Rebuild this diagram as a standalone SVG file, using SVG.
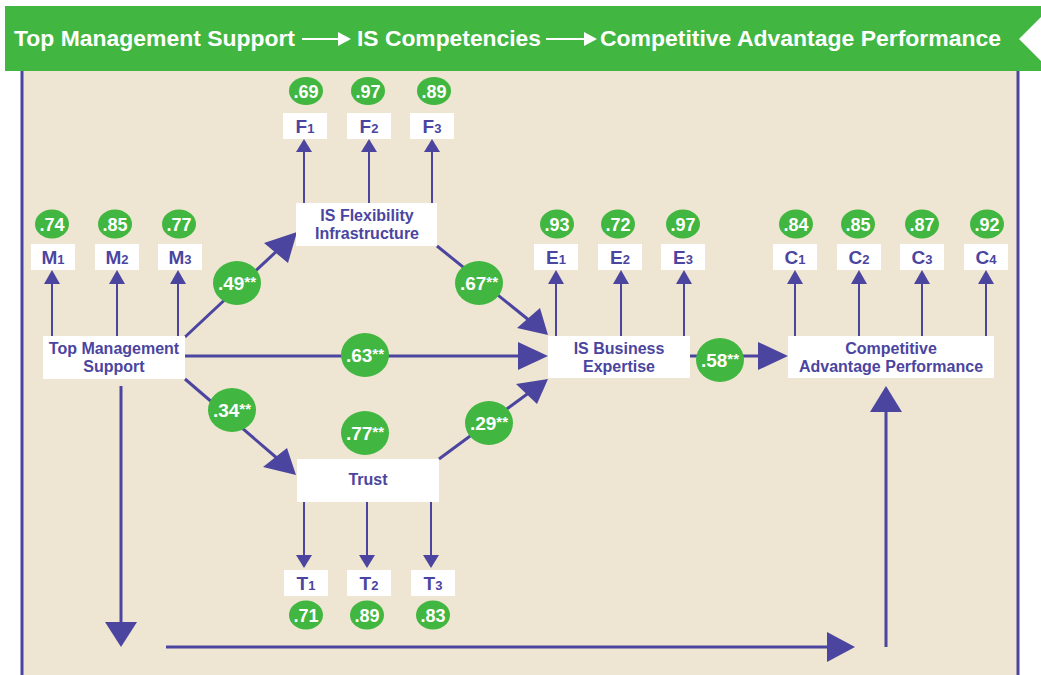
<svg xmlns="http://www.w3.org/2000/svg" width="1041" height="675" viewBox="0 0 1041 675">
<style>
.hdr{font-family:"Liberation Sans",Arial,sans-serif;font-weight:bold;font-size:22px;fill:#ffffff}
.box{fill:#ffffff}
.lbl{font-family:"Liberation Sans",Arial,sans-serif;font-weight:bold;font-size:16px;fill:#4B45A0;text-anchor:middle}
.ind{font-family:"Liberation Sans",Arial,sans-serif;font-weight:bold;font-size:19px;fill:#4B45A0;text-anchor:middle}
.sub{font-size:13px}
.dot{fill:#41B640}
.num{font-family:"Liberation Sans",Arial,sans-serif;font-weight:bold;font-size:18px;fill:#ffffff;text-anchor:middle}
.coef{font-family:"Liberation Sans",Arial,sans-serif;font-weight:bold;font-size:19px;fill:#ffffff;text-anchor:middle}
.ast{font-size:15px}
.thin{stroke:#4B45A0;stroke-width:2;fill:none}
.thick{stroke:#4B45A0;stroke-width:3;fill:none}
.head{fill:#4B45A0}
</style>

<!-- header -->
<g id="header">
<polygon points="5,6 1041,6 1041,17 1019,39 1041,61 1041,71 5,71" fill="#41B640"/>
<text class="hdr" x="14" y="46" textLength="281" lengthAdjust="spacingAndGlyphs">Top Management Support</text>
<line x1="302" y1="39" x2="340" y2="39" stroke="#ffffff" stroke-width="2"/>
<polygon points="338,32 351,39 338,46" fill="#ffffff"/>
<text class="hdr" x="357" y="46" textLength="184" lengthAdjust="spacingAndGlyphs">IS Competencies</text>
<line x1="546" y1="39" x2="586" y2="39" stroke="#ffffff" stroke-width="2"/>
<polygon points="584,32 597,39 584,46" fill="#ffffff"/>
<text class="hdr" x="600" y="46" textLength="401" lengthAdjust="spacingAndGlyphs">Competitive Advantage Performance</text>
</g>

<!-- background panel -->
<rect x="22" y="71" width="996" height="604" fill="#EEE6D2"/>
<line x1="22" y1="71" x2="22" y2="675" stroke="#4B45A0" stroke-width="3"/>
<line x1="1018" y1="71" x2="1018" y2="675" stroke="#4B45A0" stroke-width="3"/>

<!-- connectors -->
<g id="connectors">
<line class="thin" x1="52" y1="336" x2="52" y2="282"/><polygon class="head" points="52,270 44,284 60,284"/>
<line class="thin" x1="117" y1="336" x2="117" y2="282"/><polygon class="head" points="117,270 109,284 125,284"/>
<line class="thin" x1="178" y1="336" x2="178" y2="282"/><polygon class="head" points="178,270 170,284 186,284"/>
<line class="thin" x1="304" y1="203" x2="304" y2="150"/><polygon class="head" points="304,139 296,152 312,152"/>
<line class="thin" x1="369" y1="203" x2="369" y2="150"/><polygon class="head" points="369,139 361,152 377,152"/>
<line class="thin" x1="432" y1="203" x2="432" y2="150"/><polygon class="head" points="432,139 424,152 440,152"/>
<line class="thin" x1="556" y1="336" x2="556" y2="282"/><polygon class="head" points="556,270 548,284 564,284"/>
<line class="thin" x1="621" y1="336" x2="621" y2="282"/><polygon class="head" points="621,270 613,284 629,284"/>
<line class="thin" x1="684" y1="336" x2="684" y2="282"/><polygon class="head" points="684,270 676,284 692,284"/>
<line class="thin" x1="795" y1="336" x2="795" y2="282"/><polygon class="head" points="795,270 787,284 803,284"/>
<line class="thin" x1="859" y1="336" x2="859" y2="282"/><polygon class="head" points="859,270 851,284 867,284"/>
<line class="thin" x1="922" y1="336" x2="922" y2="282"/><polygon class="head" points="922,270 914,284 930,284"/>
<line class="thin" x1="986" y1="336" x2="986" y2="282"/><polygon class="head" points="986,270 978,284 994,284"/>
<line class="thin" x1="304" y1="502" x2="304" y2="557"/><polygon class="head" points="304,568 296,555 312,555"/>
<line class="thin" x1="367" y1="502" x2="367" y2="557"/><polygon class="head" points="367,568 359,555 375,555"/>
<line class="thin" x1="431" y1="502" x2="431" y2="557"/><polygon class="head" points="431,568 423,555 439,555"/>
<line class="thick" x1="185" y1="337" x2="280" y2="248"/><polygon class="head" points="297,232 264,243 288,263"/>
<line class="thick" x1="437" y1="246" x2="530" y2="321"/><polygon class="head" points="548,335 517,328 540,308"/>
<line class="thick" x1="185" y1="356" x2="522" y2="356"/><polygon class="head" points="548,356 518,342 518,370"/>
<line class="thick" x1="185" y1="379" x2="278" y2="459"/><polygon class="head" points="296,475 263,467 287,448"/>
<line class="thick" x1="439" y1="459" x2="530" y2="392"/><polygon class="head" points="548,379 516,384 537,404"/>
<line class="thick" x1="690" y1="356" x2="762" y2="356"/><polygon class="head" points="788,356 758,342 758,370"/>
<line class="thick" x1="121" y1="386" x2="121" y2="625"/><polygon class="head" points="121,647 105,622 137,622"/>
<line class="thick" x1="166" y1="647" x2="830" y2="647"/><polygon class="head" points="855,647 827,632 827,662"/>
<line class="thick" x1="886" y1="647" x2="886" y2="408"/><polygon class="head" points="886,386 870,412 902,412"/>
</g>

<!-- latent constructs -->
<g id="node-tms">
<rect class="box" x="43" y="336" width="142" height="43"/>
<text class="lbl" x="114" y="354">Top Management</text>
<text class="lbl" x="114" y="372">Support</text>
</g>
<g id="node-isf">
<rect class="box" x="296" y="203" width="141" height="43"/>
<text class="lbl" x="367" y="221">IS Flexibility</text>
<text class="lbl" x="367" y="239">Infrastructure</text>
</g>
<g id="node-be">
<rect class="box" x="548" y="336" width="142" height="42"/>
<text class="lbl" x="619" y="354">IS Business</text>
<text class="lbl" x="619" y="372">Expertise</text>
</g>
<g id="node-cap">
<rect class="box" x="788" y="336" width="206" height="42"/>
<text class="lbl" x="891" y="354">Competitive</text>
<text class="lbl" x="891" y="372">Advantage Performance</text>
</g>
<g id="node-trust">
<rect class="box" x="297" y="459" width="142" height="43"/>
<text class="lbl" x="368" y="485">Trust</text>
</g>

<!-- path coefficients -->
<g id="coef-49"><ellipse class="dot" cx="237" cy="283" rx="24" ry="22"/><text class="coef" x="237" y="290">.49<tspan class="ast" dy="-3">**</tspan></text></g>
<g id="coef-67"><ellipse class="dot" cx="479" cy="283" rx="24" ry="22"/><text class="coef" x="479" y="290">.67<tspan class="ast" dy="-3">**</tspan></text></g>
<g id="coef-63"><ellipse class="dot" cx="365" cy="355" rx="24" ry="22"/><text class="coef" x="365" y="362">.63<tspan class="ast" dy="-3">**</tspan></text></g>
<g id="coef-34"><ellipse class="dot" cx="232" cy="410" rx="24" ry="22"/><text class="coef" x="232" y="417">.34<tspan class="ast" dy="-3">**</tspan></text></g>
<g id="coef-77"><ellipse class="dot" cx="365" cy="433" rx="24" ry="22"/><text class="coef" x="365" y="440">.77<tspan class="ast" dy="-3">**</tspan></text></g>
<g id="coef-29"><ellipse class="dot" cx="489" cy="423" rx="24" ry="22"/><text class="coef" x="489" y="430">.29<tspan class="ast" dy="-3">**</tspan></text></g>
<g id="coef-58"><ellipse class="dot" cx="720" cy="360" rx="24" ry="22"/><text class="coef" x="720" y="367">.58<tspan class="ast" dy="-3">**</tspan></text></g>

<!-- M indicators -->
<g id="node-m1"><ellipse class="dot" cx="52" cy="224" rx="17" ry="14.5"/><text class="num" x="52" y="230.5">.74</text><rect class="box" x="31" y="244" width="44" height="26"/><text class="ind" x="53" y="264">M<tspan class="sub">1</tspan></text></g>
<g id="node-m2"><ellipse class="dot" cx="115" cy="224" rx="17" ry="14.5"/><text class="num" x="115" y="230.5">.85</text><rect class="box" x="95" y="244" width="44" height="26"/><text class="ind" x="117" y="264">M<tspan class="sub">2</tspan></text></g>
<g id="node-m3"><ellipse class="dot" cx="179" cy="224" rx="17" ry="14.5"/><text class="num" x="179" y="230.5">.77</text><rect class="box" x="158" y="244" width="44" height="26"/><text class="ind" x="180" y="264">M<tspan class="sub">3</tspan></text></g>

<!-- F indicators -->
<g id="node-f1"><ellipse class="dot" cx="306" cy="91" rx="17" ry="14"/><text class="num" x="306" y="97.5">.69</text><rect class="box" x="283" y="113" width="44" height="26"/><text class="ind" x="305" y="133">F<tspan class="sub">1</tspan></text></g>
<g id="node-f2"><ellipse class="dot" cx="368" cy="91" rx="17" ry="14"/><text class="num" x="368" y="97.5">.97</text><rect class="box" x="347" y="113" width="44" height="26"/><text class="ind" x="369" y="133">F<tspan class="sub">2</tspan></text></g>
<g id="node-f3"><ellipse class="dot" cx="434" cy="91" rx="17" ry="14"/><text class="num" x="434" y="97.5">.89</text><rect class="box" x="410" y="113" width="44" height="26"/><text class="ind" x="432" y="133">F<tspan class="sub">3</tspan></text></g>

<!-- E indicators -->
<g id="node-e1"><ellipse class="dot" cx="557" cy="224" rx="17" ry="14.5"/><text class="num" x="557" y="230.5">.93</text><rect class="box" x="534" y="244" width="44" height="26"/><text class="ind" x="556" y="264">E<tspan class="sub">1</tspan></text></g>
<g id="node-e2"><ellipse class="dot" cx="618" cy="224" rx="17" ry="14.5"/><text class="num" x="618" y="230.5">.72</text><rect class="box" x="598" y="244" width="44" height="26"/><text class="ind" x="620" y="264">E<tspan class="sub">2</tspan></text></g>
<g id="node-e3"><ellipse class="dot" cx="683" cy="224" rx="17" ry="14.5"/><text class="num" x="683" y="230.5">.97</text><rect class="box" x="661" y="244" width="44" height="26"/><text class="ind" x="683" y="264">E<tspan class="sub">3</tspan></text></g>

<!-- C indicators -->
<g id="node-c1"><ellipse class="dot" cx="796" cy="224" rx="17" ry="14.5"/><text class="num" x="796" y="230.5">.84</text><rect class="box" x="773" y="244" width="44" height="26"/><text class="ind" x="795" y="264">C<tspan class="sub">1</tspan></text></g>
<g id="node-c2"><ellipse class="dot" cx="858" cy="224" rx="17" ry="14.5"/><text class="num" x="858" y="230.5">.85</text><rect class="box" x="837" y="244" width="44" height="26"/><text class="ind" x="859" y="264">C<tspan class="sub">2</tspan></text></g>
<g id="node-c3"><ellipse class="dot" cx="922" cy="224" rx="17" ry="14.5"/><text class="num" x="922" y="230.5">.87</text><rect class="box" x="900" y="244" width="44" height="26"/><text class="ind" x="922" y="264">C<tspan class="sub">3</tspan></text></g>
<g id="node-c4"><ellipse class="dot" cx="987" cy="224" rx="17" ry="14.5"/><text class="num" x="987" y="230.5">.92</text><rect class="box" x="964" y="244" width="44" height="26"/><text class="ind" x="986" y="264">C<tspan class="sub">4</tspan></text></g>

<!-- T indicators -->
<g id="node-t1"><rect class="box" x="284" y="570" width="44" height="26"/><text class="ind" x="306" y="590">T<tspan class="sub">1</tspan></text><ellipse class="dot" cx="306" cy="615" rx="17" ry="14.5"/><text class="num" x="306" y="621.5">.71</text></g>
<g id="node-t2"><rect class="box" x="347" y="570" width="44" height="26"/><text class="ind" x="369" y="590">T<tspan class="sub">2</tspan></text><ellipse class="dot" cx="367" cy="615" rx="17" ry="14.5"/><text class="num" x="367" y="621.5">.89</text></g>
<g id="node-t3"><rect class="box" x="411" y="570" width="44" height="26"/><text class="ind" x="433" y="590">T<tspan class="sub">3</tspan></text><ellipse class="dot" cx="433" cy="615" rx="17" ry="14.5"/><text class="num" x="433" y="621.5">.83</text></g>
</svg>
